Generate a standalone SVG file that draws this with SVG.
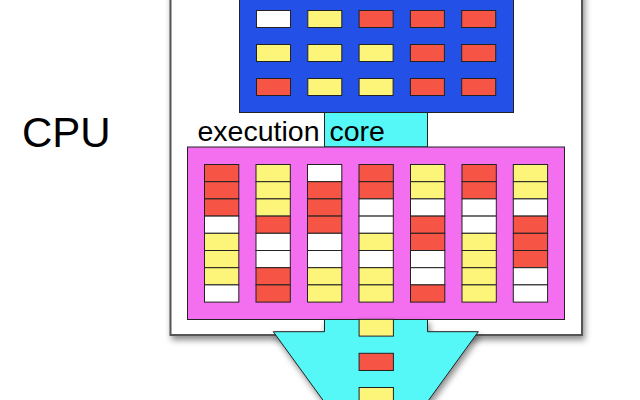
<svg xmlns="http://www.w3.org/2000/svg" width="640" height="400" viewBox="0 0 640 400">
<defs>
<filter id="sh" x="-10%" y="-10%" width="130%" height="130%">
<feDropShadow dx="2" dy="4" stdDeviation="3" flood-color="#000" flood-opacity="0.45"/>
</filter>
<style>
.c{stroke:#222;stroke-width:1}
.r{fill:#f65545}.y{fill:#fdf57a}.w{fill:#ffffff}
.lbl{font-family:"Liberation Sans",Arial,sans-serif;fill:#000}
</style>
</defs>
<rect width="640" height="400" fill="#fff"/>
<g id="cpu-box">
<rect x="170.5" y="-10" width="411.5" height="345" fill="#fff" stroke="#555" stroke-width="2" filter="url(#sh)"/>
</g>
<g id="register-file">
<rect x="239.5" y="-10" width="274" height="122.5" fill="#2350e6" stroke="#222" stroke-width="1"/>
<g class="c">
<rect class="w" x="256.5" y="10.5" width="34" height="17"/>
<rect class="y" x="307.8" y="10.5" width="34" height="17"/>
<rect class="r" x="359.1" y="10.5" width="34" height="17"/>
<rect class="r" x="410.4" y="10.5" width="34" height="17"/>
<rect class="r" x="461.7" y="10.5" width="34" height="17"/>
<rect class="y" x="256.5" y="44.5" width="34" height="17"/>
<rect class="y" x="307.8" y="44.5" width="34" height="17"/>
<rect class="y" x="359.1" y="44.5" width="34" height="17"/>
<rect class="r" x="410.4" y="44.5" width="34" height="17"/>
<rect class="r" x="461.7" y="44.5" width="34" height="17"/>
<rect class="r" x="256.5" y="78.5" width="34" height="17"/>
<rect class="y" x="307.8" y="78.5" width="34" height="17"/>
<rect class="y" x="359.1" y="78.5" width="34" height="17"/>
<rect class="r" x="410.4" y="78.5" width="34" height="17"/>
<rect class="r" x="461.7" y="78.5" width="34" height="17"/>
</g>
</g>
<g id="execution-core">
<rect x="324.5" y="112.5" width="103" height="34.5" fill="#56f7f7" stroke="#222" stroke-width="1"/>
<text class="lbl" x="197.5" y="141.3" font-size="28.5" word-spacing="2">execution core</text>
</g>
<g id="pipeline">
<rect x="187.5" y="147" width="377" height="172.5" fill="#f46ef0" stroke="#222" stroke-width="1"/>
<g class="c">
<rect class="r" x="204.5" y="164.5" width="34.3" height="17.2"/>
<rect class="r" x="204.5" y="181.7" width="34.3" height="17.2"/>
<rect class="r" x="204.5" y="198.9" width="34.3" height="17.2"/>
<rect class="w" x="204.5" y="216.1" width="34.3" height="17.2"/>
<rect class="y" x="204.5" y="233.3" width="34.3" height="17.2"/>
<rect class="y" x="204.5" y="250.5" width="34.3" height="17.2"/>
<rect class="y" x="204.5" y="267.7" width="34.3" height="17.2"/>
<rect class="w" x="204.5" y="284.9" width="34.3" height="17.2"/>
<rect class="y" x="256" y="164.5" width="34.3" height="17.2"/>
<rect class="y" x="256" y="181.7" width="34.3" height="17.2"/>
<rect class="y" x="256" y="198.9" width="34.3" height="17.2"/>
<rect class="r" x="256" y="216.1" width="34.3" height="17.2"/>
<rect class="w" x="256" y="233.3" width="34.3" height="17.2"/>
<rect class="w" x="256" y="250.5" width="34.3" height="17.2"/>
<rect class="r" x="256" y="267.7" width="34.3" height="17.2"/>
<rect class="r" x="256" y="284.9" width="34.3" height="17.2"/>
<rect class="w" x="307.5" y="164.5" width="34.3" height="17.2"/>
<rect class="r" x="307.5" y="181.7" width="34.3" height="17.2"/>
<rect class="r" x="307.5" y="198.9" width="34.3" height="17.2"/>
<rect class="r" x="307.5" y="216.1" width="34.3" height="17.2"/>
<rect class="w" x="307.5" y="233.3" width="34.3" height="17.2"/>
<rect class="w" x="307.5" y="250.5" width="34.3" height="17.2"/>
<rect class="y" x="307.5" y="267.7" width="34.3" height="17.2"/>
<rect class="y" x="307.5" y="284.9" width="34.3" height="17.2"/>
<rect class="r" x="359" y="164.5" width="34.3" height="17.2"/>
<rect class="r" x="359" y="181.7" width="34.3" height="17.2"/>
<rect class="w" x="359" y="198.9" width="34.3" height="17.2"/>
<rect class="w" x="359" y="216.1" width="34.3" height="17.2"/>
<rect class="y" x="359" y="233.3" width="34.3" height="17.2"/>
<rect class="w" x="359" y="250.5" width="34.3" height="17.2"/>
<rect class="y" x="359" y="267.7" width="34.3" height="17.2"/>
<rect class="y" x="359" y="284.9" width="34.3" height="17.2"/>
<rect class="y" x="410.5" y="164.5" width="34.3" height="17.2"/>
<rect class="y" x="410.5" y="181.7" width="34.3" height="17.2"/>
<rect class="w" x="410.5" y="198.9" width="34.3" height="17.2"/>
<rect class="r" x="410.5" y="216.1" width="34.3" height="17.2"/>
<rect class="r" x="410.5" y="233.3" width="34.3" height="17.2"/>
<rect class="w" x="410.5" y="250.5" width="34.3" height="17.2"/>
<rect class="w" x="410.5" y="267.7" width="34.3" height="17.2"/>
<rect class="r" x="410.5" y="284.9" width="34.3" height="17.2"/>
<rect class="r" x="462" y="164.5" width="34.3" height="17.2"/>
<rect class="r" x="462" y="181.7" width="34.3" height="17.2"/>
<rect class="w" x="462" y="198.9" width="34.3" height="17.2"/>
<rect class="w" x="462" y="216.1" width="34.3" height="17.2"/>
<rect class="y" x="462" y="233.3" width="34.3" height="17.2"/>
<rect class="y" x="462" y="250.5" width="34.3" height="17.2"/>
<rect class="y" x="462" y="267.7" width="34.3" height="17.2"/>
<rect class="y" x="462" y="284.9" width="34.3" height="17.2"/>
<rect class="y" x="513.3" y="164.5" width="34.3" height="17.2"/>
<rect class="y" x="513.3" y="181.7" width="34.3" height="17.2"/>
<rect class="w" x="513.3" y="198.9" width="34.3" height="17.2"/>
<rect class="r" x="513.3" y="216.1" width="34.3" height="17.2"/>
<rect class="r" x="513.3" y="233.3" width="34.3" height="17.2"/>
<rect class="r" x="513.3" y="250.5" width="34.3" height="17.2"/>
<rect class="w" x="513.3" y="267.7" width="34.3" height="17.2"/>
<rect class="w" x="513.3" y="284.9" width="34.3" height="17.2"/>
</g>
</g>
<g id="output">
<polygon points="324.5,319.5 427.5,319.5 427.5,331.7 478.3,331.7 375.8,473 273.3,331.7 324.5,331.7" fill="#56f7f7" stroke="#222" stroke-width="1" filter="url(#sh)"/>
<g class="c">
<rect class="y" x="359.1" y="319.3" width="34.3" height="16.8"/>
<rect class="r" x="359.1" y="353.3" width="34.3" height="17.2"/>
<rect class="y" x="359.1" y="387.5" width="34.3" height="17.2"/>
</g>
</g>
<g id="cpu-label">
<text class="lbl" x="22" y="146.5" font-size="42">CPU</text>
</g>
</svg>
